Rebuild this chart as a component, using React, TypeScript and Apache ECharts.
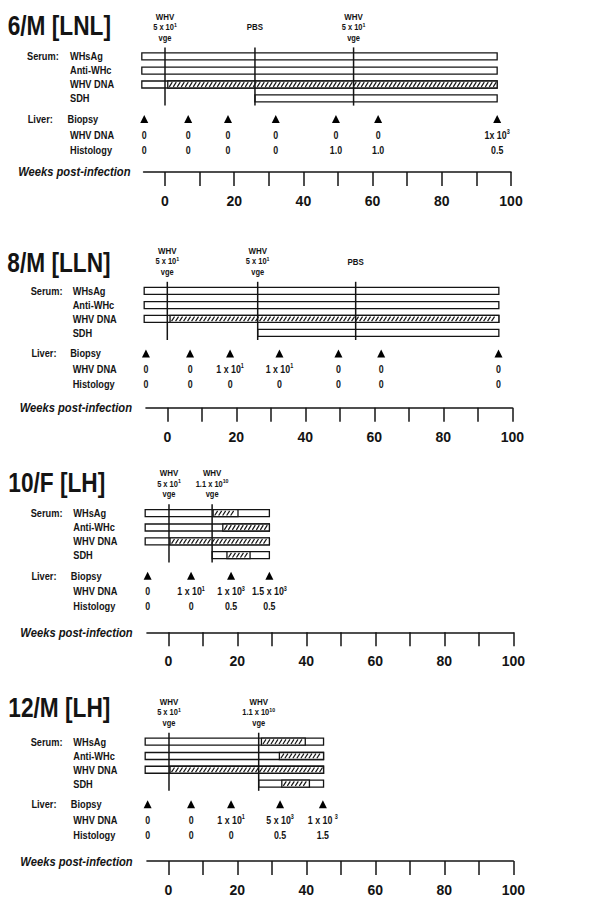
import React, { useEffect, useRef } from 'react';
import * as echarts from 'echarts';

const FONT = '"Liberation Sans", Arial, Helvetica, sans-serif';
const INK = '#141414';

// ---------- data ----------
const TITLES = ['6/M [LNL]', '8/M [LLN]', '10/F [LH]', '12/M [LH]'];
const SERUM_ROWS = ['WHsAg', 'Anti-WHc', 'WHV DNA', 'SDH'];
const LIVER_ROWS = ['Biopsy', 'WHV DNA', 'Histology'];
const GROUP_LABELS = ['Serum:', 'Liver:'];
const AXIS_TITLE = 'Weeks post-infection';
const TICK_WEEKS = [0, 10, 20, 30, 40, 50, 60, 70, 80, 90, 100];
const LABEL_WEEKS = [0, 20, 40, 60, 80, 100];
const WEEK_MIN = -6.2;
const WEEK_MAX = 100;

// Panel 1: 6/M [LNL]
const p1InocWeeks = [0, 26, 54.5];
const p1InocText = [['WHV', '5 x 10^1', 'vge'], ['PBS'], ['WHV', '5 x 10^1', 'vge']];
const p1SerumStart = [-6.7, -6.7, -6.7, 26];
const p1SerumEnd = [96, 96, 96, 96];
const p1HatchStart = [null, null, 0.8, null];
const p1HatchEnd = [null, null, 96, null];
const p1BiopsyWeeks = [-6, 6.7, 18.2, 32, 49.4, 61.6, 96];
const p1LiverDNA = ['0', '0', '0', '0', '0', '0', '1x 10^3'];
const p1Histology = ['0', '0', '0', '0', '1.0', '1.0', '0.5'];

// Panel 2: 8/M [LLN]
const p2InocWeeks = [0, 26.2, 54.6];
const p2InocText = [['WHV', '5 x 10^1', 'vge'], ['WHV', '5 x 10^1', 'vge'], ['PBS']];
const p2SerumStart = [-6.7, -6.7, -6.7, 26.2];
const p2SerumEnd = [96.1, 96.1, 96.1, 96.1];
const p2HatchStart = [null, null, 0.8, null];
const p2HatchEnd = [null, null, 96.1, null];
const p2BiopsyWeeks = [-6.2, 6.6, 18.2, 32.5, 49.6, 62, 96];
const p2LiverDNA = ['0', '0', '1 x 10^1', '1 x 10^1', '0', '0', '0'];
const p2Histology = ['0', '0', '0', '0', '0', '0', '0'];

// Panel 3: 10/F [LH]
const p3InocWeeks = [0.2, 12.7];
const p3InocText = [['WHV', '5 x 10^1', 'vge'], ['WHV', '1.1 x 10^10', 'vge']];
const p3SerumStart = [-6.7, -6.7, -6.7, 12.7];
const p3SerumEnd = [29.3, 29.3, 29.3, 29.3];
const p3HatchStart = [13, 15.8, 0.5, 17];
const p3HatchEnd = [20.2, 29.3, 29.3, 23.7];
const p3BiopsyWeeks = [-6, 6.6, 18.2, 29.3];
const p3LiverDNA = ['0', '1 x 10^1', '1 x 10^3', '1.5 x 10^3'];
const p3Histology = ['0', '0', '0.5', '0.5'];

// Panel 4: 12/M [LH]
const p4InocWeeks = [0.2, 26.2];
const p4InocText = [['WHV', '5 x 10^1', 'vge'], ['WHV', '1.1 x 10^10', 'vge']];
const p4SerumStart = [-6.7, -6.7, -6.7, 26.2];
const p4SerumEnd = [45, 45, 45, 45];
const p4HatchStart = [27, 32.2, 0.5, 32.9];
const p4HatchEnd = [39.7, 45, 45, 40.9];
const p4BiopsyWeeks = [-6, 6.6, 18.2, 32.4, 44.8];
const p4LiverDNA = ['0', '0', '1 x 10^1', '5 x 10^3', '1 x 10 ^3'];
const p4Histology = ['0', '0', '0', '0.5', '1.5'];

const PANELS = [
  { inocWeeks: p1InocWeeks, inocText: p1InocText, serumStart: p1SerumStart, serumEnd: p1SerumEnd, hatchStart: p1HatchStart, hatchEnd: p1HatchEnd, biopsy: p1BiopsyWeeks, dna: p1LiverDNA, histo: p1Histology },
  { inocWeeks: p2InocWeeks, inocText: p2InocText, serumStart: p2SerumStart, serumEnd: p2SerumEnd, hatchStart: p2HatchStart, hatchEnd: p2HatchEnd, biopsy: p2BiopsyWeeks, dna: p2LiverDNA, histo: p2Histology },
  { inocWeeks: p3InocWeeks, inocText: p3InocText, serumStart: p3SerumStart, serumEnd: p3SerumEnd, hatchStart: p3HatchStart, hatchEnd: p3HatchEnd, biopsy: p3BiopsyWeeks, dna: p3LiverDNA, histo: p3Histology },
  { inocWeeks: p4InocWeeks, inocText: p4InocText, serumStart: p4SerumStart, serumEnd: p4SerumEnd, hatchStart: p4HatchStart, hatchEnd: p4HatchEnd, biopsy: p4BiopsyWeeks, dna: p4LiverDNA, histo: p4Histology },
];

// ---------- layout (pixels) ----------
const AXIS_Y = [172, 407.7, 632.3, 861.3];
const X0 = [165, 167.3, 168.3, 168.3];
const X100 = [511, 512.3, 513.3, 513.3];
const ROW_SHIFT = [-2.3, -1, 1.2, 1.6];
const GRID_H = 170;
const ANNOT_H = [157.8, 147, 136.3];
const LINE_TOP_H = 126.9;
const LINE_BOTTOM_H = 68.7;
const SERUM_H = [117.9, 103.6, 89.8, 75.9];
const LIVER_H = [55.3, 39.4, 24.4];
const TITLE_Y = [25, 261.7, 481.7, 706.7];
const TITLE_X = [7.7, 7.3, 8.3, 8.3];
const GROUP_X = [27, 30.7, 30.7, 30.7];
const ROW_LABEL_X = [70, 72.7, 73.3, 73.3];
const WEEKS_RIGHT = [130.5, 132, 132.7, 132.7];
const BAR_H = 7;
const NARROW = 0.84;

function toRich(s: string) {
  const parts = s.split('^');
  if (parts.length === 2) return `{b|${parts[0]}}{s|${parts[1]}}`;
  return `{b|${s}}`;
}

function richStyles(size: number, supSize: number) {
  return {
    b: { fontSize: size, fontWeight: 'bold', fontFamily: FONT, fill: INK, color: INK, lineHeight: size + 3 },
    s: { fontSize: supSize, fontWeight: 'bold', fontFamily: FONT, fill: INK, color: INK, verticalAlign: 'top', lineHeight: size + 3 },
  };
}

function buildOption() {
  const grid: any[] = [];
  const xAxis: any[] = [];
  const yAxis: any[] = [];
  const series: any[] = [];
  const graphic: any[] = [];

  PANELS.forEach((p, i) => {
    const scale = (X100[i] - X0[i]) / 100;
    const left = X0[i] + WEEK_MIN * scale;
    const sh = ROW_SHIFT[i];
    grid.push({ left, top: AXIS_Y[i] - GRID_H, width: X100[i] - left, height: GRID_H, containLabel: false });
    xAxis.push({
      gridIndex: i, type: 'value', min: WEEK_MIN, max: WEEK_MAX,
      axisLine: { show: true, onZero: false, lineStyle: { color: INK, width: 1.5 } },
      axisTick: { show: true, customValues: TICK_WEEKS, length: 14, lineStyle: { color: INK, width: 1.5 } },
      axisLabel: { show: true, customValues: LABEL_WEEKS, margin: 22, fontSize: 14, fontWeight: 'bold', color: INK, fontFamily: FONT },
      splitLine: { show: false },
    });
    yAxis.push({ gridIndex: i, type: 'value', min: 0, max: GRID_H, show: false });

    // serum bars
    const hs = p.hatchStart, he = p.hatchEnd;
    series.push({
      type: 'custom', xAxisIndex: i, yAxisIndex: i, clip: false,
      encode: { x: [0, 1], y: 2 },
      data: p.serumStart.map((s, r) => [s, p.serumEnd[r], SERUM_H[r] + sh]),
      renderItem: (params: any, api: any) => {
        const k = params.dataIndex;
        const yv = api.value(2);
        const a = api.coord([api.value(0), yv]);
        const b = api.coord([api.value(1), yv]);
        const top = a[1] - BAR_H / 2;
        const children: any[] = [
          { type: 'rect', shape: { x: a[0], y: top, width: b[0] - a[0], height: BAR_H }, style: { fill: '#fff', stroke: INK, lineWidth: 1.3 } },
        ];
        if (hs[k] != null && he[k] != null) {
          const ha = api.coord([hs[k], yv])[0];
          const hb = api.coord([he[k], yv])[0];
          children.push({ type: 'rect', shape: { x: ha, y: top, width: hb - ha, height: BAR_H }, style: { fill: '#fff', stroke: INK, lineWidth: 1.3 } });
          for (let x = ha + 1.5; x + 3 <= hb - 0.8; x += 4) {
            children.push({ type: 'line', shape: { x1: x, y1: top + BAR_H - 1.2, x2: x + 3, y2: top + 1.2 }, style: { stroke: INK, lineWidth: 1.2 } });
          }
        }
        return { type: 'group', children };
      },
      z: 2,
    });

    // inoculation lines + annotations
    const texts = p.inocText;
    series.push({
      type: 'custom', xAxisIndex: i, yAxisIndex: i, clip: false,
      encode: { x: 0, y: [1, 2] },
      data: p.inocWeeks.map((w) => [w, LINE_BOTTOM_H + sh, LINE_TOP_H + sh]),
      renderItem: (params: any, api: any) => {
        const k = params.dataIndex;
        const w = api.value(0);
        const a = api.coord([w, api.value(1)]);
        const b = api.coord([w, api.value(2)]);
        const children: any[] = [
          { type: 'line', shape: { x1: a[0], y1: a[1], x2: b[0], y2: b[1] }, style: { stroke: INK, lineWidth: 1.5 } },
        ];
        const lines = texts[k];
        const rows = lines.length === 1 ? [1] : [0, 1, 2];
        lines.forEach((t: string, j: number) => {
          const pt = api.coord([w, ANNOT_H[rows[j]] + sh]);
          children.push({
            type: 'text', x: pt[0], y: pt[1], scaleX: 0.88,
            style: {
              text: toRich(t),
              rich: richStyles(j === 0 ? 9 : 8.5, 6),
              align: 'center', verticalAlign: 'middle', textAlign: 'center', textVerticalAlign: 'middle',
              fill: INK,
            },
          });
        });
        return { type: 'group', children };
      },
      z: 3,
    });

    // biopsy triangles
    series.push({
      type: 'scatter', xAxisIndex: i, yAxisIndex: i, clip: false,
      symbol: 'triangle', symbolSize: [8, 8],
      itemStyle: { color: '#000', opacity: 1 },
      data: p.biopsy.map((w) => [w, LIVER_H[0] + sh]),
      z: 3,
    });

    // liver WHV DNA + histology values
    const dna = p.dna, histo = p.histo;
    series.push({
      type: 'custom', xAxisIndex: i, yAxisIndex: i, clip: false,
      encode: { x: 0, y: [1, 2] },
      data: p.biopsy.map((w) => [w, LIVER_H[1] + sh, LIVER_H[2] + sh]),
      renderItem: (params: any, api: any) => {
        const k = params.dataIndex;
        const w = api.value(0);
        const a = api.coord([w, api.value(1)]);
        const b = api.coord([w, api.value(2)]);
        const mk = (pt: number[], t: string) => ({
          type: 'text', x: pt[0], y: pt[1], scaleX: NARROW,
          style: {
            text: toRich(t),
            rich: richStyles(10.5, 6.5),
            align: 'center', verticalAlign: 'middle', textAlign: 'center', textVerticalAlign: 'middle',
            fill: INK,
          },
        });
        return { type: 'group', children: [mk(a, dna[k]), mk(b, histo[k])] };
      },
      z: 3,
    });

    // static labels
    const txt = (x: number, y: number, text: string, size: number, sx: number, extra: any = {}) => ({
      type: 'text', x, y, scaleX: sx, silent: true,
      style: {
        text, fill: INK, fontSize: size, fontWeight: 'bold', fontFamily: FONT,
        align: 'left', verticalAlign: 'middle', textAlign: 'left', textVerticalAlign: 'middle', ...extra,
      },
    });
    const ay = AXIS_Y[i];
    graphic.push(txt(TITLE_X[i], TITLE_Y[i], TITLES[i], 28, 0.81));
    graphic.push(txt(GROUP_X[i], ay - (SERUM_H[0] + sh), GROUP_LABELS[0], 11, NARROW));
    graphic.push(txt(GROUP_X[i] + 0.7, ay - (LIVER_H[0] + sh), GROUP_LABELS[1], 11, NARROW));
    SERUM_ROWS.forEach((r, j) => graphic.push(txt(ROW_LABEL_X[i], ay - (SERUM_H[j] + sh), r, 11, NARROW)));
    LIVER_ROWS.forEach((r, j) => graphic.push(txt(ROW_LABEL_X[i] - (j === 0 ? 2.5 : 0), ay - (LIVER_H[j] + sh), r, 11, NARROW)));
    graphic.push(txt(WEEKS_RIGHT[i], ay, AXIS_TITLE, 13.5, 0.83, { fontStyle: 'italic', align: 'right', textAlign: 'right' }));
  });

  return { animation: false, backgroundColor: '#ffffff', grid, xAxis, yAxis, series, graphic };
}

export default function App() {
  const ref = useRef<HTMLDivElement>(null);
  useEffect(() => {
    if (!ref.current) return;
    const chart = echarts.init(ref.current, null, { renderer: 'svg' });
    chart.setOption(buildOption() as any);
    return () => chart.dispose();
  }, []);
  return (
    <div
      ref={ref}
      style={{ position: 'fixed', left: 0, top: 0, width: 607, height: 897, background: '#fff' }}
    />
  );
}
